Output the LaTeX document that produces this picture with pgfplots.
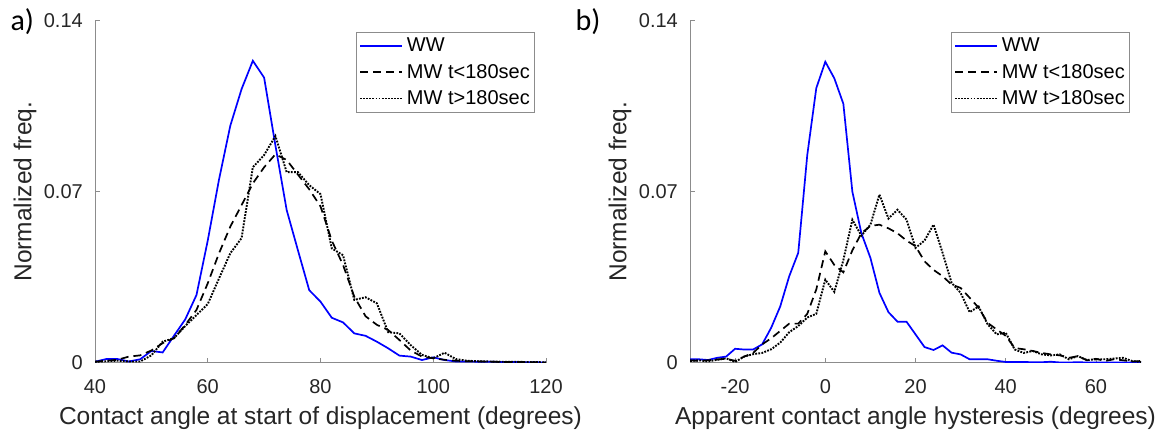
\documentclass[border=0pt]{standalone}
\usepackage{fontspec}
\setmainfont{Liberation Sans}
\newfontfamily\calib{Carlito}
\usepackage{pgfplots}
\pgfplotsset{compat=1.18}
\definecolor{txt}{RGB}{38,38,38}
\definecolor{axc}{RGB}{140,140,140}
\pgfplotsset{
 myax/.style={
  scale only axis, width=451pt, height=342pt,
  axis lines=left, axis line style={-, draw=axc, line width=0.8pt},
  tick align=inside, major tick length=5pt, tick style={draw=axc, line width=0.8pt},
  ymin=0, ymax=0.14, ytick={0,0.07,0.14}, yticklabels={0,0.07,0.14},
  tick label style={font=\fontsize{20}{24}\selectfont, text=txt},
  xticklabel style={anchor=base, yshift=-30.6pt},
  yticklabel style={anchor=east, inner xsep=0pt, xshift=-12pt},
  ylabel={Normalized freq.},
  every axis y label/.style={at={(axis description cs:-0.155,0.5)}, rotate=90, anchor=center,
     font=\fontsize{24.5}{28}\selectfont, text=txt},
  every axis x label/.style={at={(axis description cs:0.5,-0.182)}, anchor=base,
     font=\fontsize{24.5}{28}\selectfont, text=txt},
  legend style={at={(axis description cs:0.578,0.968)}, anchor=north west, draw=axc, line width=0.8pt,
    font=\fontsize{20}{24}\selectfont, text=black, inner xsep=3pt, inner ysep=4pt, row sep=7pt},
  legend cell align=left,
  legend image code/.code={\draw[#1] (0pt,0pt) -- (42pt,0pt); \path (44pt,0pt);},
  clip mode=individual,
 },
 ww/.style={color={rgb,255:red,0;green,0;blue,255}, line width=1.7pt},
 mwa/.style={black, line width=1.7pt, dash pattern=on 8pt off 5pt},
 mwb/.style={black, line width=1.9pt, dash pattern=on 1.8pt off 1.3pt},
}
\pgfplotstableread{
x ww mwa mwb
40 0.0004 0.0004 0.0004
42 0.0015 0.0008 0.0006
44 0.0015 0.0012 0.0008
46 0.0005 0.0025 0.0005
48 0.0014 0.0030 0.0005
50 0.0048 0.0050 0.0030
52 0.0042 0.0080 0.0086
54 0.0110 0.0100 0.0100
56 0.0177 0.0154 0.0150
58 0.0277 0.0216 0.0195
60 0.0500 0.0325 0.0240
62 0.0750 0.0448 0.0345
64 0.0970 0.0557 0.0448
66 0.1120 0.0645 0.0510
68 0.1236 0.0734 0.0800
70 0.1167 0.0800 0.0850
72 0.0890 0.0853 0.0928
74 0.0625 0.0830 0.0780
76 0.0460 0.0770 0.0780
78 0.0297 0.0710 0.0727
80 0.0250 0.0640 0.0690
82 0.0184 0.0500 0.0468
84 0.0165 0.0400 0.0440
86 0.0120 0.0270 0.0257
88 0.0110 0.0190 0.0268
90 0.0086 0.0155 0.0243
92 0.0059 0.0134 0.0125
94 0.0029 0.0093 0.0120
96 0.0025 0.0050 0.0072
98 0.0011 0.0025 0.0032
100 0.0022 0.0018 0.0018
102 0.0011 0.0012 0.0041
104 0.0005 0.0008 0.0015
106 0.0005 0.0006 0.0008
108 0.0004 0.0005 0.0006
110 0.0004 0.0004 0.0005
112 0.0003 0.0003 0.0004
114 0.0003 0.0003 0.0004
116 0.0002 0.0003 0.0003
118 0.0002 0.0002 0.0003
120 0.0001 0.0001 0.0001
}\tabA
\pgfplotstableread{
x ww mwa mwb
-30 0.0014 0.0010 0.0007
-28 0.0014 0.0007 0.0010
-26 0.0011 0.0010 0.0005
-24 0.0020 0.0013 0.0012
-22 0.0025 0.0016 0.0018
-20 0.0057 0.0008 0.0003
-18 0.0054 0.0025 0.0025
-16 0.0054 0.0040 0.0035
-14 0.0075 0.0075 0.0040
-12 0.0143 0.0100 0.0055
-10 0.0230 0.0130 0.0082
-8 0.0354 0.0160 0.0125
-6 0.0450 0.0160 0.0150
-4 0.0850 0.0200 0.0185
-2 0.1124 0.0300 0.0200
0 0.1232 0.0456 0.0340
2 0.1164 0.0400 0.0290
4 0.1060 0.0370 0.0420
6 0.0700 0.0460 0.0585
8 0.0530 0.0530 0.0520
10 0.0429 0.0560 0.0565
12 0.0286 0.0565 0.0688
14 0.0207 0.0550 0.0590
16 0.0168 0.0530 0.0626
18 0.0168 0.0500 0.0586
20 0.0116 0.0477 0.0470
22 0.0064 0.0415 0.0500
24 0.0052 0.0380 0.0565
26 0.0071 0.0354 0.0450
28 0.0041 0.0320 0.0327
30 0.0034 0.0306 0.0286
32 0.0014 0.0266 0.0207
34 0.0014 0.0225 0.0230
36 0.0014 0.0163 0.0157
38 0.0008 0.0136 0.0116
40 0.0003 0.0110 0.0123
42 0.0003 0.0060 0.0054
44 0.0003 0.0055 0.0040
46 0.0002 0.0048 0.0048
48 0.0002 0.0040 0.0034
50 0.0004 0.0034 0.0030
52 0.0001 0.0030 0.0034
54 0.0001 0.0020 0.0014
56 0.0002 0.0027 0.0027
58 0.0001 0.0010 0.0011
60 0.0001 0.0016 0.0014
62 0.0001 0.0007 0.0014
64 0.0001 0.0014 0.0017
66 0.0001 0.0010 0.0020
68 0.0001 0.0005 0.0007
70 0.0001 0.0007 0.0003
}\tabB
\begin{document}
\begin{tikzpicture}
\useasboundingbox (0,0) rectangle (1166pt,432pt);
\begin{axis}[myax, at={(95pt,69.3pt)}, anchor=south west,
  xmin=40, xmax=120, xtick={40,60,80,100,120}, xticklabels={40,60,80,100,120},
  xlabel={Contact angle at start of displacement (degrees)}]
\addplot[ww] table[x=x,y=ww]{\tabA};
\addplot[mwa] table[x=x,y=mwa]{\tabA};
\addplot[mwb] table[x=x,y=mwb]{\tabA};
\legend{WW,MW t<180sec,MW t>180sec}
\end{axis}
\begin{axis}[myax, at={(690pt,69.3pt)}, anchor=south west,
  xmin=-30, xmax=70, xtick={-20,0,20,40,60}, xticklabels={-20,0,20,40,60},
  xlabel={Apparent contact angle hysteresis (degrees)}]
\addplot[ww] table[x=x,y=ww]{\tabB};
\addplot[mwa] table[x=x,y=mwa]{\tabB};
\addplot[mwb] table[x=x,y=mwb]{\tabB};
\legend{WW,MW t<180sec,MW t>180sec}
\end{axis}
\node[font=\calib\fontsize{30}{34}\selectfont, anchor=west, text=black] at (7pt,410pt) {a)};
\node[font=\calib\fontsize{30}{34}\selectfont, anchor=west, text=black] at (572pt,410pt) {b)};
\end{tikzpicture}
\end{document}
